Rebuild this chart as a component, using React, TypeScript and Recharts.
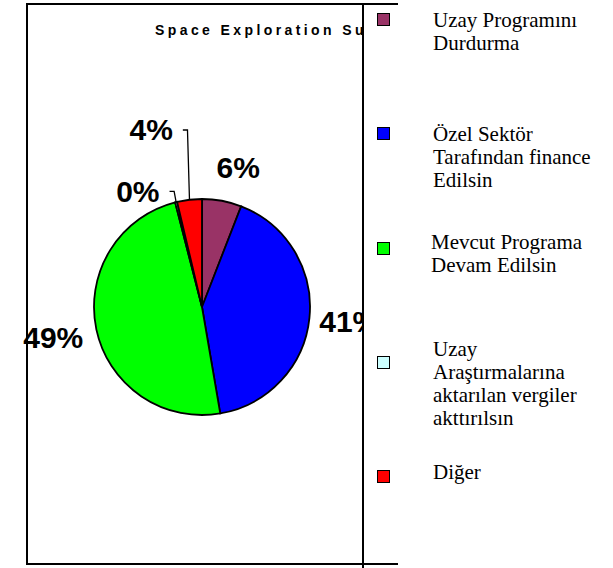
import { PieChart, Pie, Cell, Legend, Customized } from "recharts";

const TITLE = "Space Exploration Survey";

const categories = [
  "Uzay Programını Durdurma",
  "Özel Sektör Tarafından finance Edilsin",
  "Mevcut Programa Devam Edilsin",
  "Uzay Araştırmalarına aktarılan vergiler akttırılsın",
  "Diğer",
];

const shares = [5.9, 41.4, 48.7, 0.3, 3.7];

const colors = ["#993366", "#0000FF", "#00FF00", "#CCFFFF", "#FF0000"];

const data = categories.map((name, i) => ({ name, value: shares[i] }));

// labels moved off their default spot; the ones with a leader line were dragged away
const LABEL_NUDGE: Record<number, { dx: number; dy: number; leader?: boolean }> = {
  0: { dx: 9, dy: 6 },
  2: { dx: -4, dy: 0 },
  3: { dx: -7, dy: 28, leader: true },
  4: { dx: -12, dy: -30, leader: true },
};

// small shifts of the legend text relative to its swatch
const LEGEND_TEXT_DY = [0, 0, -6, -13, -5];
const LEGEND_TEXT_DX = [0, 0, -2, 0, 0];

const RADIAN = Math.PI / 180;
const CLIP_RIGHT = 363;

function renderLabel(props: any) {
  const { cx, cy, midAngle, outerRadius, percent, index } = props;
  const text = `${Math.round(percent * 100)}%`;
  const r = outerRadius + 40;
  const cos = Math.cos(-midAngle * RADIAN);
  const sin = Math.sin(-midAngle * RADIAN);
  const nudge = LABEL_NUDGE[index] || { dx: 0, dy: 0 };
  const x = cx + r * cos + nudge.dx;
  const y = cy + r * sin + nudge.dy;
  const common = {
    y,
    dominantBaseline: "central" as const,
    fill: "#000",
    fontFamily: "'Liberation Sans', Arial, sans-serif",
    fontWeight: 700,
    fontSize: 30,
  };
  if (!nudge.leader) {
    return (
      <text x={x} textAnchor="middle" clipPath="url(#plotClip)" {...common}>
        {text}
      </text>
    );
  }
  const ex = cx + outerRadius * cos;
  const ey = cy + outerRadius * sin;
  return (
    <g>
      <text x={x} textAnchor="end" {...common}>
        {text}
      </text>
      <path d={`M${x + 10},${y} H${ex - 2} L${ex},${ey}`} stroke="#000" strokeWidth={1.3} fill="none" />
    </g>
  );
}

function Frame() {
  return (
    <g>
      <defs>
        <clipPath id="plotClip">
          <rect x={0} y={0} width={CLIP_RIGHT} height={568} />
        </clipPath>
      </defs>
      <text
        x={155}
        y={35}
        fill="#000"
        clipPath="url(#plotClip)"
        fontFamily="'Liberation Sans', Arial, sans-serif"
        fontWeight="bold"
        fontSize={14}
        letterSpacing={3.4}
      >
        {TITLE}
      </text>
      <line x1={27} y1={4} x2={27} y2={564} stroke="#000" strokeWidth={2} />
      <line x1={26} y1={4} x2={398} y2={4} stroke="#000" strokeWidth={2} />
      <line x1={26} y1={564} x2={398} y2={564} stroke="#000" strokeWidth={2} />
      <line x1={CLIP_RIGHT} y1={4} x2={CLIP_RIGHT} y2={568} stroke="#000" strokeWidth={2} />
    </g>
  );
}

function renderLegend() {
  return (
    <div style={{ position: "relative", width: 613, height: 568 }}>
      {categories.map((name, i) => {
        const center = 20 + i * 114.3;
        return (
          <div key={name}>
            <div
              style={{
                position: "absolute",
                left: 377,
                top: center - 7,
                width: 11,
                height: 11,
                background: colors[i],
                border: "1.5px solid #000",
              }}
            />
            <div
              style={{
                position: "absolute",
                left: 433 + LEGEND_TEXT_DX[i],
                top: center - 11.5 + LEGEND_TEXT_DY[i],
                width: 166,
                fontFamily: "'Liberation Serif', 'Times New Roman', serif",
                fontSize: 21,
                lineHeight: "23px",
                color: "#000",
                textAlign: "left",
              }}
            >
              {name}
            </div>
          </div>
        );
      })}
    </div>
  );
}

export default function App() {
  return (
    <div style={{ position: "absolute", left: 0, top: 0, width: 613, height: 568, background: "#fff" }}>
      <PieChart width={613} height={568} margin={{ top: 0, right: 0, bottom: 0, left: 0 }}>
        <Pie
          data={data}
          dataKey="value"
          nameKey="name"
          cx={202}
          cy={307}
          outerRadius={108}
          startAngle={90}
          endAngle={-270}
          stroke="#000"
          strokeWidth={1.8}
          label={renderLabel}
          labelLine={false}
          isAnimationActive={false}
        >
          {data.map((d, i) => (
            <Cell key={d.name} fill={colors[i]} />
          ))}
        </Pie>
        <Customized component={Frame} />
        <Legend
          content={renderLegend}
          wrapperStyle={{ position: "absolute", left: 0, top: 0, width: 613, height: 568 }}
        />
      </PieChart>
    </div>
  );
}
